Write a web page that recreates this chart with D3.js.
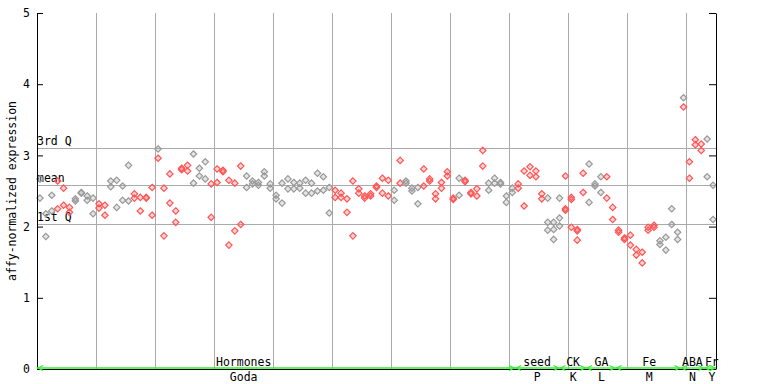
<!DOCTYPE html>
<html>
<head>
<meta charset="utf-8">
<script src="https://cdn.jsdelivr.net/npm/d3@7"></script>
<style>
  body { margin: 0; background: #fff; }
  text { font-family: "DejaVu Sans Mono", monospace; font-size: 11.5px; fill: #000; }
</style>
</head>
<body>
<svg id="chart" width="768" height="384"></svg>
<script>

// expression per sample column (top point, second point, third replicate)
let valsA = [2.67,2.18,2.44,2.64,2.54,2.27,2.39,2.48,2.43,2.40,
  2.32,2.30,2.64,2.65,2.57,2.86,2.46,2.41,2.41,2.55,
  3.09,2.54,2.74,2.22,2.82,2.86,3.02,2.82,2.91,2.60,
  2.81,2.79,2.65,2.61,2.85,2.71,2.64,2.62,2.77,2.60,
  2.44,2.61,2.67,2.62,2.61,2.65,2.61,2.75,2.70,2.55,
  2.51,2.47,2.39,2.64,2.53,2.43,2.46,2.57,2.68,2.65,
  2.51,2.93,2.64,2.54,2.55,2.81,2.67,2.46,2.62,2.77,
  2.40,2.68,2.65,2.48,2.53,3.07,2.61,2.68,2.62,2.43,
  2.54,2.60,2.78,2.84,2.78,2.46,2.40,2.06,2.40,2.71,
  2.41,1.96,2.75,2.88,2.60,2.70,2.70,2.27,1.95,1.84,
  1.88,1.68,1.64,1.99,2.02,1.80,1.85,2.25,1.92,3.81,
  2.91,3.22,3.16,3.23,2.58];
let valsB = [2.40,1.86,2.22,2.25,2.30,2.20,2.36,2.47,2.37,2.18,
  2.26,2.16,2.56,2.27,2.37,2.36,2.40,2.22,2.40,2.16,
  2.96,1.87,2.33,2.06,2.80,2.78,2.61,2.71,2.67,2.13,
  2.62,2.77,1.74,1.94,2.03,2.55,2.60,2.58,2.71,2.54,
  2.39,2.33,2.53,2.53,2.54,2.47,2.47,2.50,2.51,2.19,
  2.41,2.41,2.20,1.87,2.47,2.40,2.43,2.55,2.47,2.43,
  2.37,2.61,2.61,2.50,2.32,2.57,2.64,2.39,2.54,2.71,
  2.38,2.44,2.63,2.46,2.43,2.85,2.51,2.61,2.60,2.34,
  2.48,2.54,2.29,2.72,2.70,2.39,2.06,1.96,2.12,2.25,
  2.38,1.94,2.48,2.34,2.57,2.48,2.40,2.10,1.92,1.82,
  1.74,1.60,1.49,1.95,1.99,1.75,1.67,2.03,1.82,3.68,
  2.68,3.15,3.07,2.70,2.10];
let valsC = {86: 1.95, 87: 1.82, 88: 2.01, 89: 2.23, 90: 1.99, 91: 1.81};

// g = grey, r = red, m = grey top / red below
let colorCodes = 'gggrrrggggrrggggrrrrmrrrrrgggrrrrrr' +
  'ggggggggggggggg' + 'rrrrrrrrrr' + 'grgggrrrrr' + 'rgrrrr' + 'ggggg' +
  'rrrrr' + 'ggg' + 'rrr' + 'rgggr' + 'rrrrrrrr' + 'gggg' + 'm' + 'rrr' + 'gg';

let nSamples = 115;
let yTicks = [0, 1, 2, 3, 4, 5];
let quartiles = [{name: '3rd Q', v: 3.10}, {name: 'mean', v: 2.58}, {name: '1st Q', v: 2.04}];

let groups = ['Hormones', 'seed', 'CK', 'GA', 'Fe', 'ABA', 'Fr'];
let subGroups = ['Goda', 'P', 'K', 'L', 'M', 'N', 'Y'];
let groupStart = [0, 81, 88.5, 93, 98, 109, 113];
let groupEnd = [81, 88.5, 93, 98, 109, 113, 115];
let labelAt = [35, 84.7, 90.8, 95.6, 103.7, 111, 114.3];

let svg = d3.select('#chart');

let x = d3.scaleLinear().domain([0, nSamples]).range([37, 716]);
let y = d3.scaleLinear().domain([0, 5]).range([369, 13]);

let colorOf = {g: '#999999', r: '#ff5555'};

//grid
let grid = svg.append('g').attr('shape-rendering', 'crispEdges');
grid.selectAll('line.v')
  .data(d3.range(10, nSamples, 10))
  .enter().append('line')
    .attr('class', 'v')
    .attr('x1', d => Math.round(x(d)) + 0.5)
    .attr('x2', d => Math.round(x(d)) + 0.5)
    .attr('y1', y(5))
    .attr('y2', y(0))
    .attr('stroke', '#aaaaaa');

grid.selectAll('line.q')
  .data(quartiles)
  .enter().append('line')
    .attr('class', 'q')
    .attr('x1', x(0))
    .attr('x2', x(nSamples))
    .attr('y1', d => Math.round(y(d.v)) + 0.5)
    .attr('y2', d => Math.round(y(d.v)) + 0.5)
    .attr('stroke', '#aaaaaa');

svg.selectAll('text.q')
  .data(quartiles)
  .enter().append('text')
    .attr('class', 'q')
    .attr('x', x(0))
    .attr('y', d => y(d.v) - 3)
    .text(d => d.name);

//points
let pts = [];
for (let i = 0; i < nSamples; i++) {
  let c = colorCodes[i];
  pts.push({i: i, v: valsA[i], c: c == 'm' ? 'g' : c});
  pts.push({i: i, v: valsB[i], c: c == 'm' ? 'r' : c});
  if (valsC[i] != null) pts.push({i: i, v: valsC[i], c: c == 'm' ? 'r' : c});
}

let diamond = 'M0,-3.2L3.2,0L0,3.2L-3.2,0Z';
svg.append('g')
  .selectAll('path')
  .data(pts)
  .enter().append('path')
    .attr('d', diamond)
    .attr('transform', d => 'translate(' + x(d.i + 0.5) + ',' + y(d.v) + ')')
    .attr('fill', d => colorOf[d.c])
    .attr('fill-opacity', 0.25)
    .attr('stroke', d => colorOf[d.c])
    .attr('stroke-width', 1.2);

//axes
let left = svg.append('g')
  .attr('transform', 'translate(' + x(0) + ',0)')
  .call(d3.axisLeft(y).tickValues(yTicks).tickSize(-6).tickSizeOuter(0).tickPadding(7)
    .tickFormat(d3.format('d')));
left.select('.domain').attr('stroke', '#000');
left.selectAll('text').style('font-size', '11.5px');

let right = svg.append('g')
  .attr('transform', 'translate(' + x(nSamples) + ',0)')
  .call(d3.axisRight(y).tickValues(yTicks).tickSize(-7).tickSizeOuter(0).tickFormat(''));

svg.append('text')
  .attr('transform', 'translate(12,' + 191 + ') rotate(-90)')
  .attr('text-anchor', 'middle')
  .attr('dominant-baseline', 'central')
  .text('affy-normalized expression');

//sample groups along bottom
svg.append('line')
  .attr('x1', x(0)).attr('x2', x(nSamples))
  .attr('y1', y(0) + 0.5).attr('y2', y(0) + 0.5)
  .attr('stroke', '#000');

let gb = svg.append('g').attr('stroke', '#33ee33').attr('stroke-width', 1.3).attr('fill', 'none');
groups.forEach(function(name, k) {
  let x0 = x(groupStart[k]), x1 = x(groupEnd[k]), gy = y(0) - 1;
  gb.append('line').attr('x1', x0).attr('x2', x1).attr('y1', gy).attr('y2', gy);
  gb.append('path').attr('d', 'M' + (x0 + 6) + ',' + (gy - 2.5) + 'L' + (x0 + 1) + ',' + gy + 'L' + (x0 + 6) + ',' + (gy + 2.5));
  gb.append('path').attr('d', 'M' + (x1 - 6) + ',' + (gy - 2.5) + 'L' + (x1 - 1) + ',' + gy + 'L' + (x1 - 6) + ',' + (gy + 2.5));
});

svg.selectAll('text.grp')
  .data(groups)
  .enter().append('text')
    .attr('class', 'grp')
    .attr('x', (d, k) => x(labelAt[k]))
    .attr('y', 366)
    .attr('text-anchor', 'middle')
    .text(d => d);

svg.selectAll('text.sub')
  .data(subGroups)
  .enter().append('text')
    .attr('class', 'sub')
    .attr('x', (d, k) => x(labelAt[k]))
    .attr('y', 381)
    .attr('text-anchor', 'middle')
    .text(d => d);

</script>
</body>
</html>
